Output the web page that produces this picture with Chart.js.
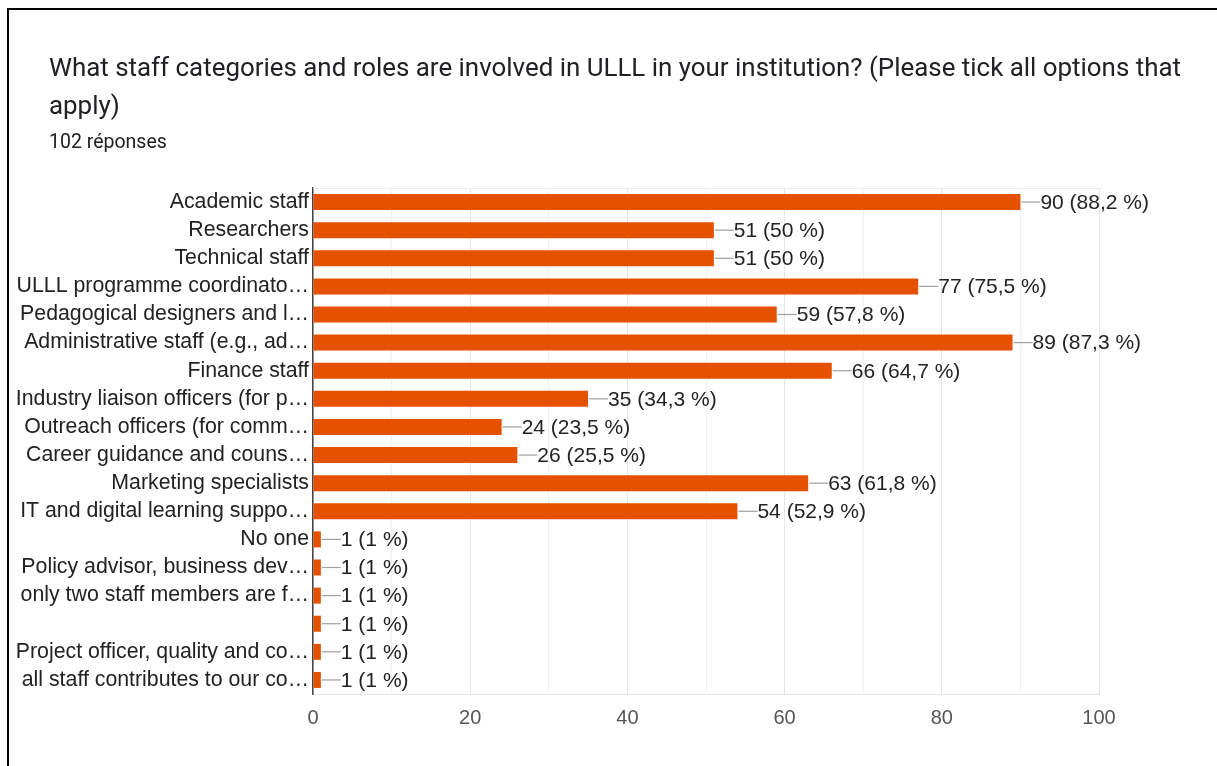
<!DOCTYPE html>
<html>
<head>
<meta charset="utf-8">
<script src="https://cdn.jsdelivr.net/npm/chart.js@4/dist/chart.umd.min.js"></script>
<style>
    body { margin: 0; background: #fff; overflow: hidden; }
    #frame {
        position: absolute; left: 7px; top: 8px; width: 1400px; height: 900px;
        border-left: 2px solid #000; border-top: 2px solid #000;
    }
    #title {
        position: absolute; left: 49px; top: 48px; width: 1150px;
        font-family: Roboto, sans-serif; font-size: 25.9px; line-height: 38px; color: #202124;
    }
    #subtitle {
        position: absolute; left: 49px; top: 131px;
        font-family: Roboto, sans-serif; font-size: 19.5px; line-height: 22px; color: #202124;
    }
    #chart { position: absolute; left: 0; top: 0; }
</style>
</head>
<body>
<div id="frame"></div>
<canvas id="chart" width="1217" height="766"></canvas>
<div id="title">What staff categories and roles are involved in ULLL in your institution? (Please tick all options that apply)</div>
<div id="subtitle">102 réponses</div>

<script>
// Données
const totalResponses = 102;

const categories = [
    'Academic staff',
    'Researchers',
    'Technical staff',
    'ULLL programme coordinato…',
    'Pedagogical designers and l…',
    'Administrative staff (e.g., ad…',
    'Finance staff',
    'Industry liaison officers (for p…',
    'Outreach officers (for comm…',
    'Career guidance and couns…',
    'Marketing specialists',
    'IT and digital learning suppo…',
    'No one',
    'Policy advisor, business dev…',
    'only two staff members are f…',
    '',
    'Project officer, quality and co…',
    'all staff contributes to our co…'
];

const counts = [90, 51, 51, 77, 59, 89, 66, 35, 24, 26, 63, 54, 1, 1, 1, 1, 1, 1];

const xTicks = [0, 20, 40, 60, 80, 100];

const barColor = '#e65100';
const labelFont = '21px "Liberation Sans", Arial, sans-serif';

// "90 (88,2 %)"
function formatLabel(v) {
    let pct = (v / totalResponses * 100).toFixed(1);
    if (pct.endsWith('.0')) pct = pct.slice(0, -2);
    return `${v} (${pct.replace('.', ',')} %)`;
}

// Petit trait gris + valeur au bout de chaque barre
const valueLabels = {
    id: 'valueLabels',
    afterDatasetsDraw(chart) {
        const ctx = chart.ctx;
        const meta = chart.getDatasetMeta(0);
        ctx.save();
        ctx.font = labelFont;
        ctx.textBaseline = 'middle';
        ctx.textAlign = 'left';
        meta.data.forEach((bar, i) => {
            const x = bar.x;
            const y = bar.y;
            ctx.strokeStyle = '#9e9e9e';
            ctx.lineWidth = 1.2;
            ctx.beginPath();
            ctx.moveTo(x + 1, y);
            ctx.lineTo(x + 20, y);
            ctx.stroke();
            ctx.fillStyle = '#222';
            ctx.fillText(formatLabel(counts[i]), x + 20, y + 1);
        });
        ctx.restore();
    }
};

// ligne claire en haut de la zone du graphique
const topLine = {
    id: 'topLine',
    beforeDatasetsDraw(chart) {
        const { ctx, chartArea } = chart;
        ctx.save();
        ctx.strokeStyle = '#ececec';
        ctx.lineWidth = 1;
        ctx.beginPath();
        ctx.moveTo(chartArea.left, chartArea.top + 0.5);
        ctx.lineTo(chartArea.right, chartArea.top + 0.5);
        ctx.stroke();
        ctx.restore();
    }
};

const ctx = document.getElementById('chart').getContext('2d');
new Chart(ctx, {
    type: 'bar',
    data: {
        labels: categories,
        datasets: [{
            data: counts,
            backgroundColor: barColor,
            borderWidth: 0,
            barPercentage: 0.57,
            categoryPercentage: 1
        }]
    },
    options: {
        indexAxis: 'y',
        responsive: false,
        animation: false,
        layout: { padding: { top: 188, right: 118, bottom: 32, left: 0 } },
        plugins: {
            legend: { display: false },
            tooltip: { enabled: false }
        },
        scales: {
            x: {
                min: 0,
                max: 100,
                afterFit: (scale) => { scale.height = 40; },
                ticks: {
                    stepSize: 10,
                    padding: 12,
                    color: '#555',
                    font: { family: '"Liberation Sans", Arial, sans-serif', size: 20 },
                    callback: (v) => xTicks.includes(v) ? v : ''
                },
                grid: {
                    drawTicks: false,
                    color: (c) => (c.tick && c.tick.value % 20 === 0) ? '#e6e6e6' : '#f0f0f0'
                },
                border: { color: '#e6e6e6' }
            },
            y: {
                afterFit: (scale) => { scale.width = 313; },
                ticks: {
                    padding: 4,
                    color: '#222',
                    autoSkip: false,
                    font: { family: '"Liberation Sans", Arial, sans-serif', size: 21.3 }
                },
                grid: { display: false, drawTicks: false },
                border: { color: '#444', width: 1.5 }
            }
        }
    },
    plugins: [topLine, valueLabels]
});
</script>
</body>
</html>
